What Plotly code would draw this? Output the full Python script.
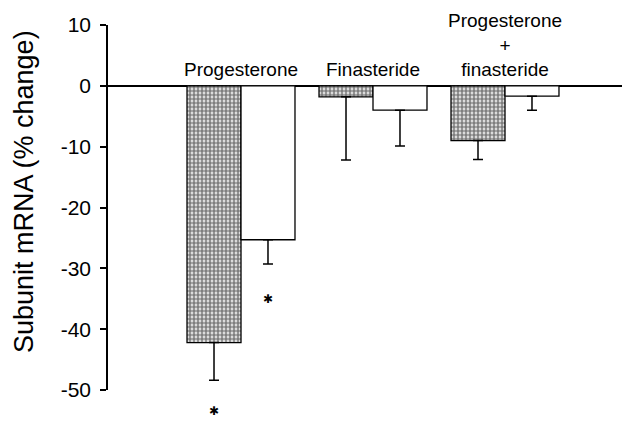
import plotly.graph_objects as go

categories = ["Progesterone", "Finasteride", "Progesterone<br>+<br>finasteride"]
hatched_values = [-42.2, -1.8, -9.0]
hatched_err = [6.2, 10.4, 3.1]
white_values = [-25.3, -4.0, -1.7]
white_err = [4.0, 5.9, 2.3]
y_ticks = [10, 0, -10, -20, -30, -40, -50]
y_ticktext = ["10", "0", "-10", "-20", "-30", "-40", "-50"]
# significance stars: (category index, series, y value)
star_positions = [(0, "hatched", -54.0), (0, "white", -35.0)]
STAR = "\u2731"

FONT = "Liberation Sans, Arial, sans-serif"
idx = list(range(len(categories)))

# page body has an 8px margin: compensate
W, H = 622, 413
MT, MB = 17, 31
YMIN, YMAX = -50, 10
plot_h = H - MT - MB

fig = go.Figure()
fig.add_trace(go.Bar(
    x=idx, y=hatched_values, name="hatched",
    marker=dict(color="white", line=dict(color="black", width=1.3),
                pattern=dict(shape=".", fgcolor="black", bgcolor="white", size=4, solidity=0.7)),
    error_y=dict(type="data", symmetric=False, array=[0]*3, arrayminus=hatched_err,
                 color="black", thickness=1.5, width=5),
))
fig.add_trace(go.Bar(
    x=idx, y=white_values, name="white",
    marker=dict(color="white", line=dict(color="black", width=1.3)),
    error_y=dict(type="data", symmetric=False, array=[0]*3, arrayminus=white_err,
                 color="black", thickness=1.5, width=5),
))

# category labels above zero line
for i, c in enumerate(categories):
    fig.add_annotation(x=i, y=0, text=c, showarrow=False, yanchor="bottom",
                       xref="x", yref="y", yshift=4,
                       font=dict(family=FONT, size=19, color="black"))

# significance stars
off = 0.2045
bottom_paper = -(MB - 1) / plot_h  # lowest position that keeps the text inside the figure
for i, series, yv in star_positions:
    xv = i - off if series == "hatched" else i + off
    yp = (yv - YMIN) / (YMAX - YMIN)
    if yp < bottom_paper + 0.03:
        fig.add_annotation(x=xv, y=bottom_paper, text=STAR, showarrow=False,
                           xref="x", yref="paper", yanchor="bottom",
                           font=dict(family="DejaVu Sans", size=12, color="black"))
    else:
        fig.add_annotation(x=xv, y=yp, text=STAR, showarrow=False,
                           xref="x", yref="paper", yanchor="middle",
                           font=dict(family="DejaVu Sans", size=12, color="black"))

# y title
fig.add_annotation(x=-0.161, y=0.545, xref="paper", yref="paper", text="Subunit mRNA (% change)",
                   textangle=-90, showarrow=False, xanchor="center", yanchor="middle",
                   font=dict(family=FONT, size=27, color="black"))

fig.update_layout(
    width=W, height=H,
    margin=dict(l=100, r=0, t=MT, b=MB, pad=0),
    plot_bgcolor="white", paper_bgcolor="white",
    barmode="group", bargap=0.182, bargroupgap=0,
    showlegend=False,
    font=dict(family=FONT, color="black"),
)
fig.update_xaxes(range=[-1.0076, 2.947], showticklabels=False, ticks="", showgrid=False,
                 zeroline=False, showline=False)
fig.update_yaxes(range=[YMIN, YMAX], tickvals=y_ticks, ticktext=y_ticktext, ticks="outside",
                 ticklen=6, tickwidth=1.5,
                 tickcolor="black", showline=True, linecolor="black", linewidth=1.5,
                 showgrid=False, zeroline=True, zerolinecolor="black", zerolinewidth=1.5,
                 tickfont=dict(family=FONT, size=21, color="black"), ticklabelstandoff=5)

fig.write_html("out.html")
